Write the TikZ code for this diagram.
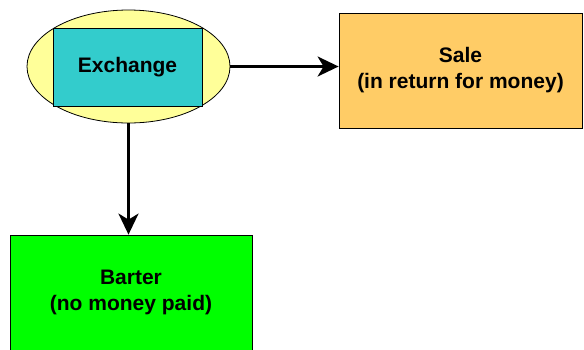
\documentclass[tikz,border=0pt]{standalone}
\usepackage{fontspec}
\setmainfont{Liberation Sans}
\usetikzlibrary{shapes.geometric,arrows.meta}

\definecolor{ringyellow}{HTML}{FFFF99}
\definecolor{excyan}{HTML}{33CCCC}
\definecolor{saleorange}{HTML}{FFCC66}
\definecolor{bartergreen}{HTML}{00FF00}

\begin{document}
\begin{tikzpicture}[x=1pt,y=-1pt]
\tikzstyle{box}=[draw=black, line width=0.8pt, inner sep=0pt, align=center,
  font=\bfseries\fontsize{21}{26}\selectfont]
\tikzstyle{link}=[line width=2.5pt, -{Stealth[length=21pt,width=20pt,inset=6pt]}]
\useasboundingbox (0,0) rectangle (584,349);
\clip (0,0) rectangle (584,349);
% exchange in its ring
\node [ellipse, draw=black, line width=0.8pt, fill=ringyellow, inner sep=0pt,
  minimum width=203, minimum height=113] (ring) at (128.5,66.5) {};
\node [box, fill=excyan, minimum width=149, minimum height=78] (exchange) at (127.5,67) {Exchange};
% the two kinds
\node [box, fill=saleorange, minimum width=243, minimum height=115] (sale) at (460.5,70.5)
  {Sale\\(in return for money)};
\node [box, fill=bartergreen, minimum width=242, minimum height=115] (barter) at (131,292.5)
  {Barter\\(no money paid)};
% arrows
\draw [link] (ring.east) -- (ring.east -| sale.west);
\draw [link] (ring.south) -- (ring.south |- barter.north);
\end{tikzpicture}
\end{document}
